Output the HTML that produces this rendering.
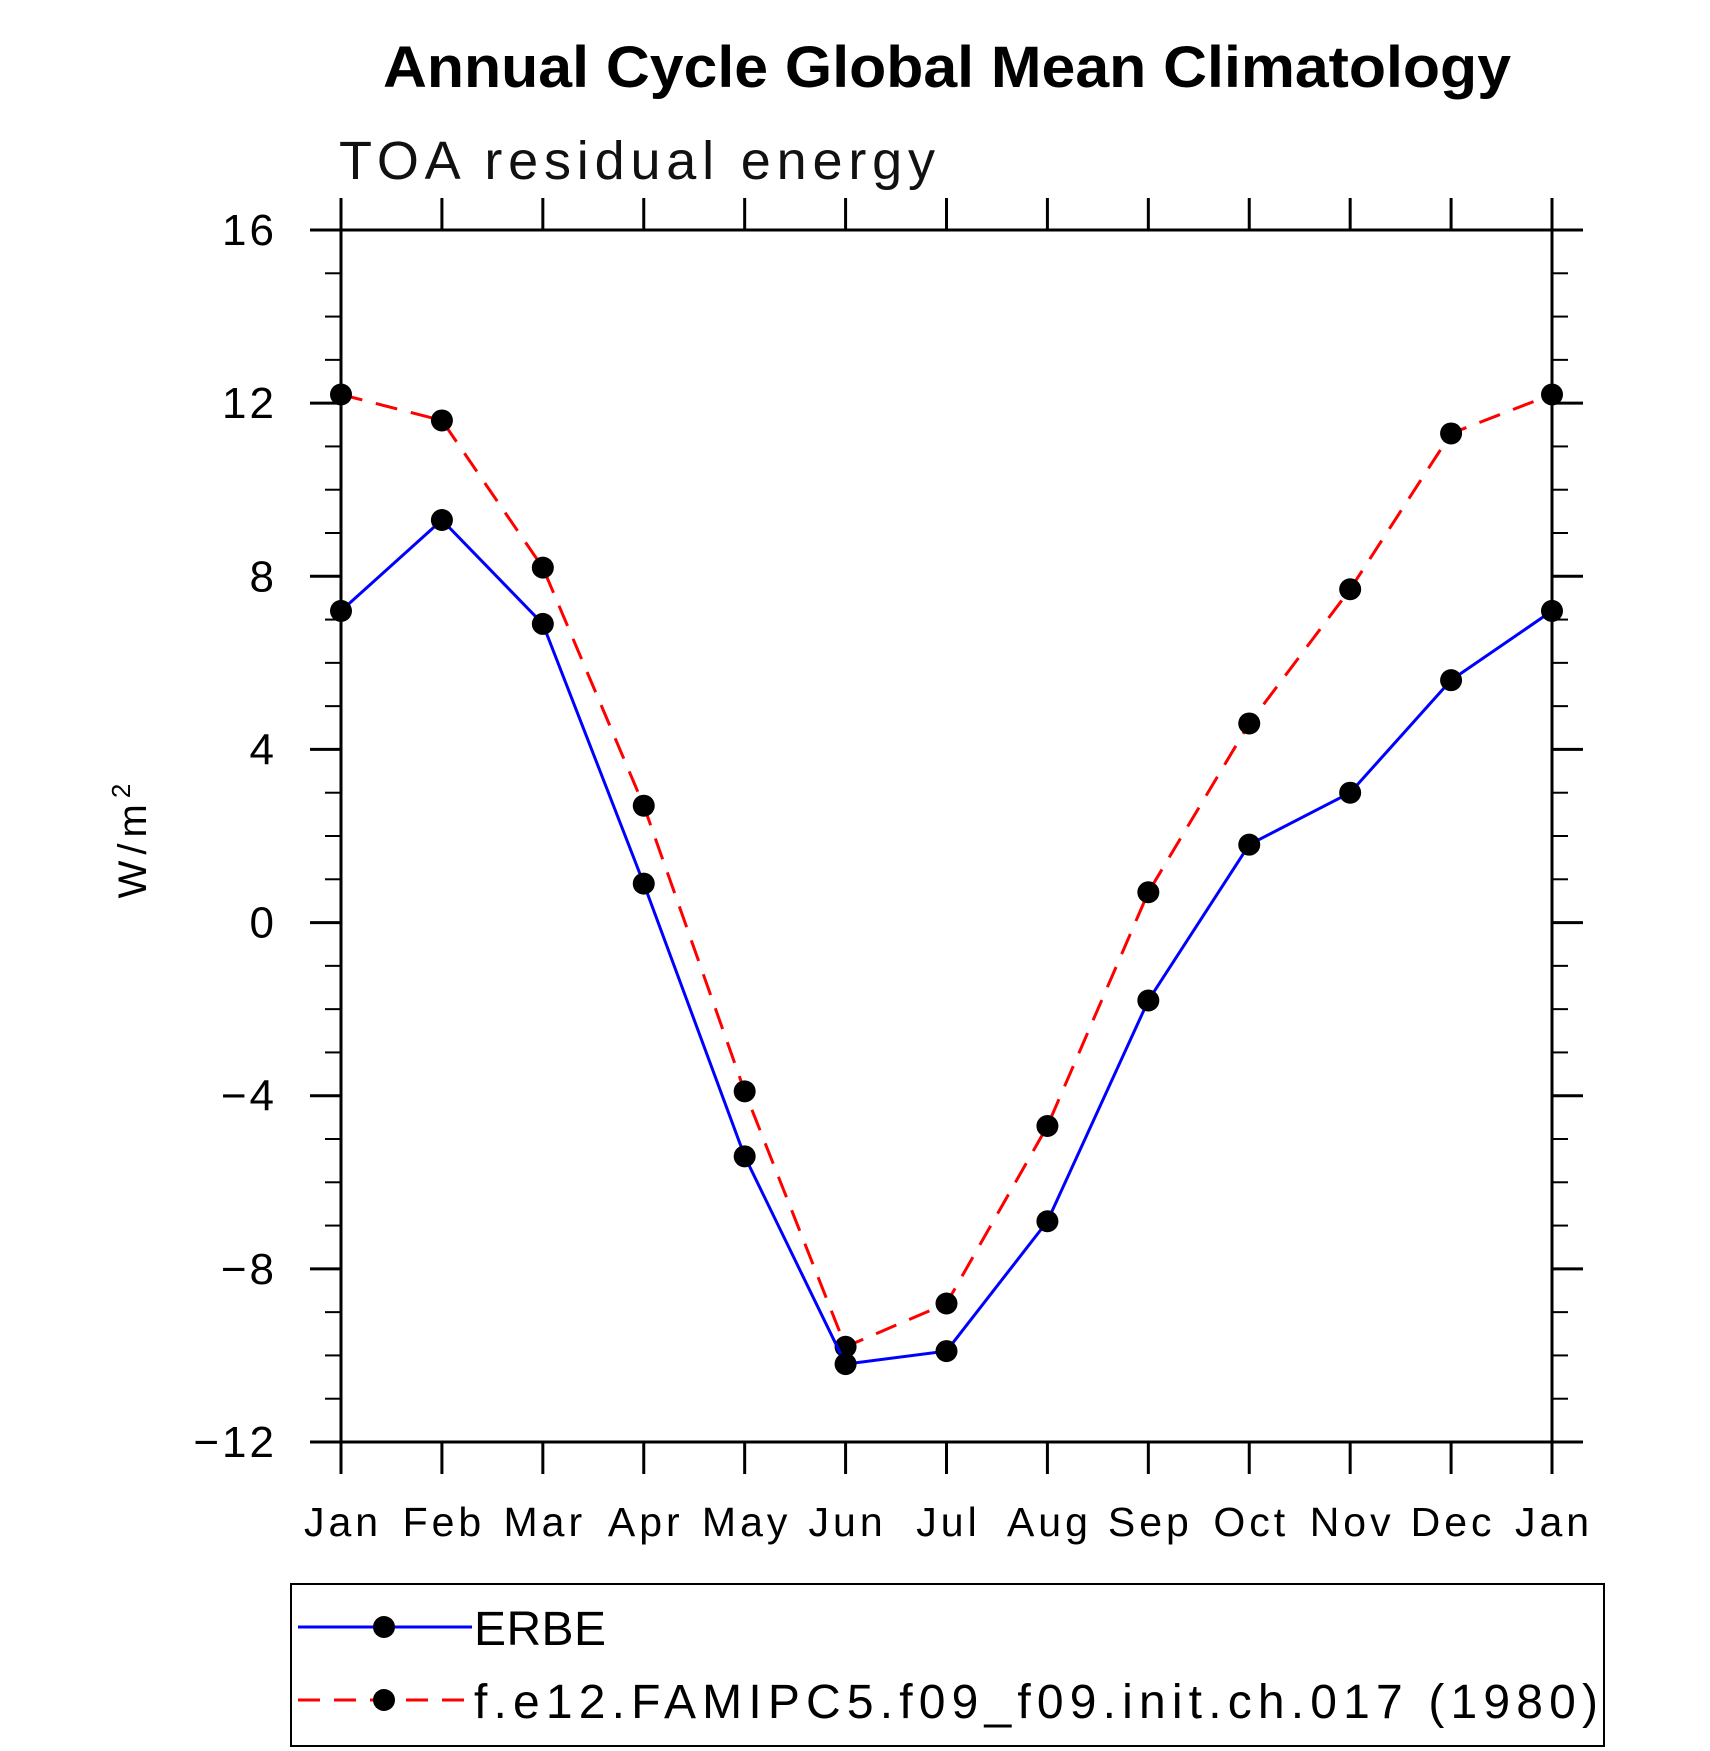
<!DOCTYPE html>
<html><head><meta charset="utf-8"><style>
body{margin:0;background:#fff;}
svg{display:block;font-family:"Liberation Sans",sans-serif;}
</style></head><body>
<svg id="chart" width="1710" height="1751" viewBox="0 0 1710 1751">
<text x="383" y="87" font-size="58" font-weight="bold" textLength="1128" lengthAdjust="spacingAndGlyphs">Annual Cycle Global Mean Climatology</text>
<text x="339" y="179" font-size="54" fill="#111" textLength="596" lengthAdjust="spacing">TOA residual energy</text>
<text transform="translate(146,838) rotate(-90)" text-anchor="middle" font-size="40" letter-spacing="6">W/m<tspan dy="-16" font-size="26">2</tspan></text>
<g id="axes"></g>
<g id="series"></g>
<rect x="291" y="1584" width="1313" height="162" fill="none" stroke="#000" stroke-width="2"/>
<line x1="298" y1="1627" x2="472" y2="1627" stroke="#00f" stroke-width="3"/>
<circle cx="384" cy="1627" r="11" fill="#000"/>
<text x="474" y="1645" font-size="48" textLength="132" lengthAdjust="spacing">ERBE</text>
<line x1="298" y1="1700" x2="472" y2="1700" stroke="#f00" stroke-width="3" stroke-dasharray="22,14"/>
<circle cx="384" cy="1700" r="11" fill="#000"/>
<text x="474" y="1718" font-size="48" textLength="1124" lengthAdjust="spacing">f.e12.FAMIPC5.f09_f09.init.ch.017 (1980)</text>
</svg>
<script>
const months = ["Jan","Feb","Mar","Apr","May","Jun","Jul","Aug","Sep","Oct","Nov","Dec","Jan"];
const erbe = [7.2, 9.3, 6.9, 0.9, -5.4, -10.2, -9.9, -6.9, -1.8, 1.8, 3.0, 5.6, 7.2];
const model = [12.2, 11.6, 8.2, 2.7, -3.9, -9.8, -8.8, -4.7, 0.7, 4.6, 7.7, 11.3, 12.2];
const yTicks = [16, 12, 8, 4, 0, -4, -8, -12];
const yTickLabels = ["16","12","8","4","0","\u22124","\u22128","\u221212"];

const L=341,R=1552,T=230,B=1442,YMIN=-12,YMAX=16;
const x=i=>L+(R-L)*i/(months.length-1);
const y=v=>B-(v-YMIN)/(YMAX-YMIN)*(B-T);
const NS="http://www.w3.org/2000/svg";
function mk(tag,attrs,parent){const e=document.createElementNS(NS,tag);for(const k in attrs)e.setAttribute(k,attrs[k]);parent.appendChild(e);return e;}
const ax=document.getElementById('axes');
const frame=mk('rect',{x:L,y:T,width:R-L,height:B-T,fill:'none',stroke:'#000','stroke-width':3},ax);


for(let v=YMIN;v<=YMAX;v++){
  const major=v%4===0, len=major?31:16;
  const a=mk('line',{x1:L-len,y1:y(v),x2:L,y2:y(v),stroke:'#000','stroke-width':major?3:2},ax);
  
  
  const b=mk('line',{x1:R,y1:y(v),x2:R+len,y2:y(v),stroke:'#000','stroke-width':major?3:2},ax);
  
  
}
yTicks.forEach((v,i)=>{
  const t=mk('text',{x:277,y:y(v)+15,'text-anchor':'end','font-size':44,'letter-spacing':3},ax);
  t.textContent=yTickLabels[i];
  
  
});
months.forEach((m,i)=>{
  const a=mk('line',{x1:x(i),y1:B,x2:x(i),y2:B+32,stroke:'#000','stroke-width':3},ax);
  
  
  const b=mk('line',{x1:x(i),y1:T-32,x2:x(i),y2:T,stroke:'#000','stroke-width':3},ax);
  
  
  const t=mk('text',{x:x(i)+2,y:1536,'text-anchor':'middle','font-size':41,'letter-spacing':4},ax);
  t.textContent=m;
  
  
});
const sg=document.getElementById('series');
function series(vals,color,dash,name){
  const p=mk('polyline',{points:vals.map((v,i)=>x(i)+','+y(v)).join(' '),fill:'none',stroke:color,'stroke-width':3,'stroke-dasharray':dash},sg);
  
  
  vals.forEach((v,i)=>{
    const c=mk('circle',{cx:x(i),cy:y(v),r:11,fill:'#000'},sg);
    
    
  });
}
series(model,'#f00','22,14','model');
series(erbe,'#00f','none','erbe');
</script>
</body></html>
